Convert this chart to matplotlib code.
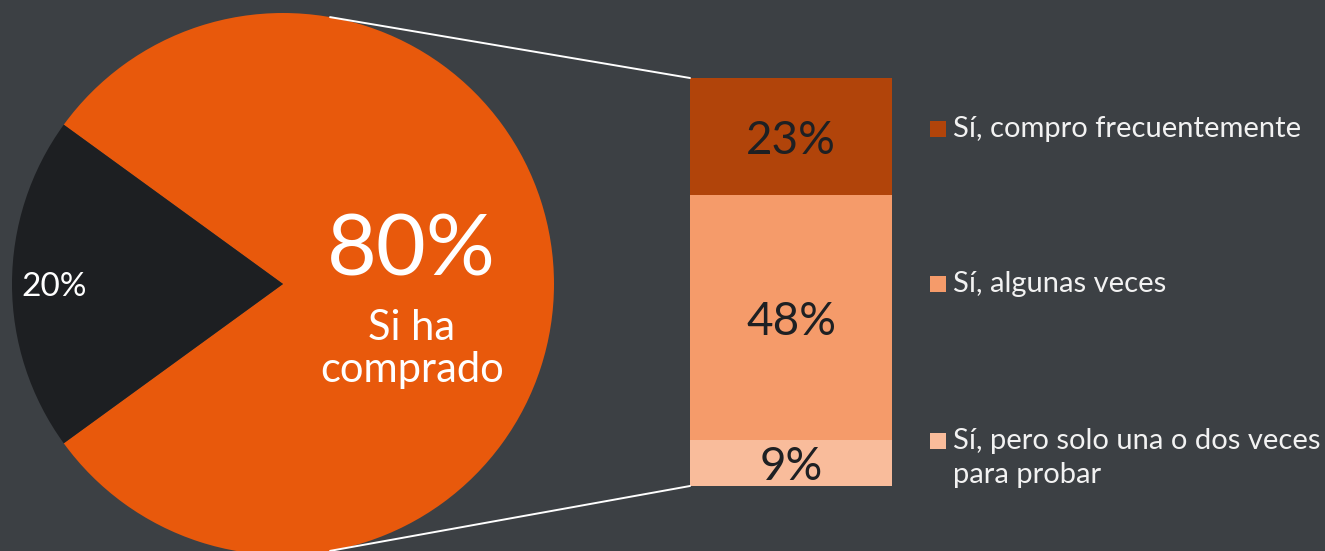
import matplotlib.pyplot as plt
from matplotlib.patches import ConnectionPatch, Rectangle
import numpy as np

plt.rcParams['font.family'] = ['Lato', 'DejaVu Sans']

# data
pie_labels = ['Si ha comprado', 'No']
pie_values = [80, 20]
bar_labels = ['Sí, pero solo una o dos veces\npara probar', 'Sí, algunas veces', 'Sí, compro frecuentemente']
bar_values = [9, 48, 23]

bg = '#3c4044'
pie_colors = ['#e8590c', '#1d1f22']
bar_colors = ['#f9bc9b', '#f59b6a', '#b1440a']

W, H = 1325, 551
fig = plt.figure(figsize=(W / 100, H / 100), dpi=100, facecolor=bg)

# pie, centre about (283, 284) px, radius 271 px
cx, cy, r = 283, 284, 271
ax1 = fig.add_axes([(cx - r) / W, (H - cy - r) / H, 2 * r / W, 2 * r / H])
ax1.set_facecolor(bg)
ax1.pie(pie_values, colors=pie_colors, startangle=216, counterclock=True,
        radius=1, wedgeprops=dict(linewidth=0))
ax1.set_xlim(-1, 1)
ax1.set_ylim(-1, 1)
ax1.set_aspect('equal')
ax1.axis('off')

ax1.text(0.475, 0.12, '%d%%' % pie_values[0], color='white', fontsize=62,
         ha='center', va='center')
ax1.text(0.475, -0.24, 'Si ha\ncomprado', color='white', fontsize=30,
         ha='center', va='center', linespacing=1.15)
ax1.text(-0.845, -0.01, '%d%%' % pie_values[1], color='white', fontsize=24,
         ha='center', va='center')

# stacked bar
bx0, bx1, by0, by1 = 690, 892, 78, 486
ax2 = fig.add_axes([bx0 / W, (H - by1) / H, (bx1 - bx0) / W, (by1 - by0) / H])
bottom = 0
for v, c in zip(bar_values, bar_colors):
    ax2.bar(0, v, bottom=bottom, width=1, color=c, linewidth=0)
    ax2.text(0, bottom + v / 2, '%d%%' % v, ha='center', va='center_baseline',
             fontsize=33, color='#1e2023')
    bottom += v
ax2.set_xlim(-0.5, 0.5)
ax2.set_ylim(0, sum(bar_values))
ax2.axis('off')

# connector lines
ang = np.deg2rad(80)
for yb, sgn in [(sum(bar_values), 1), (0, -1)]:
    con = ConnectionPatch(xyA=(np.cos(ang), sgn * np.sin(ang)), coordsA=ax1.transData,
                          xyB=(-0.5, yb), coordsB=ax2.transData,
                          color='white', linewidth=1.4)
    fig.add_artist(con)

# legend
leg_y = [441, 284, 129]
for lab, c, y in zip(bar_labels, bar_colors, leg_y):
    fig.add_artist(Rectangle((930 / W, (H - y - 8) / H), 16 / W, 16 / H,
                             transform=fig.transFigure, color=c, linewidth=0))
    lines = lab.split('\n')
    fig.text(953 / W, (H - y) / H, lines[0], color='#f2f2f2', fontsize=21,
             ha='left', va='center')
    for i, extra in enumerate(lines[1:]):
        fig.text(953 / W, (H - y - 34 * (i + 1)) / H, extra, color='#f2f2f2',
                 fontsize=21, ha='left', va='center')

fig.savefig('out.png', dpi=100, facecolor=bg)
